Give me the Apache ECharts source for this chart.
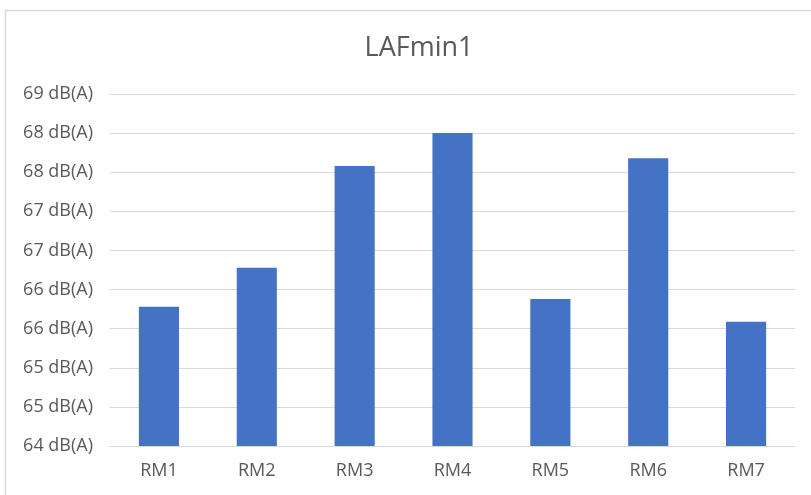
<!DOCTYPE html>
<html>
<head>
<meta charset="utf-8">
<script src="https://cdn.jsdelivr.net/npm/echarts@6/dist/echarts.min.js"></script>
<style>
html,body{margin:0;padding:0;background:#fff;}
#c{width:811px;height:495px;}
</style>
</head>
<body>
<div id="c"></div>
<script>
const categories = ['RM1','RM2','RM3','RM4','RM5','RM6','RM7'];
const values = [65.78, 66.28, 67.58, 68.0, 65.88, 67.68, 65.59];
const chartTitle = 'LAFmin1';
const unit = ' dB(A)';

const chart = echarts.init(document.getElementById('c'));
chart.setOption({
  animation: false,
  backgroundColor: '#fff',
  title: {
    text: chartTitle,
    left: 414, top: 30, textAlign: 'center',
    textStyle: {fontFamily: 'Open Sans', fontSize: 27, fontWeight: 'normal', color: '#595959'}
  },
  graphic: [{
    type: 'rect',
    shape: {x: 5.5, y: 10.5, width: 1000, height: 800},
    style: {fill: null, stroke: '#d9d9d9', lineWidth: 1.5},
    silent: true
  }],
  grid: {left: 110, right: 16, top: 94, bottom: 49, containLabel: false},
  xAxis: {
    type: 'category',
    data: categories,
    axisLine: {lineStyle: {color: '#d9d9d9', width: 1}},
    axisTick: {show: false},
    axisLabel: {color: '#595959', fontFamily: 'Open Sans', fontSize: 18, margin: 16}
  },
  yAxis: {
    type: 'value',
    min: 64, max: 68.5, interval: 0.5,
    axisLine: {show: false},
    axisTick: {show: false},
    splitLine: {lineStyle: {color: '#d9d9d9', width: 1}},
    axisLabel: {
      color: '#595959', fontFamily: 'Open Sans', fontSize: 18, margin: 17,
      formatter: v => Math.round(v) + unit
    }
  },
  series: [{
    type: 'bar',
    data: values,
    barWidth: '41%',
    itemStyle: {color: '#4472c4'}
  }]
});
</script>
</body>
</html>
